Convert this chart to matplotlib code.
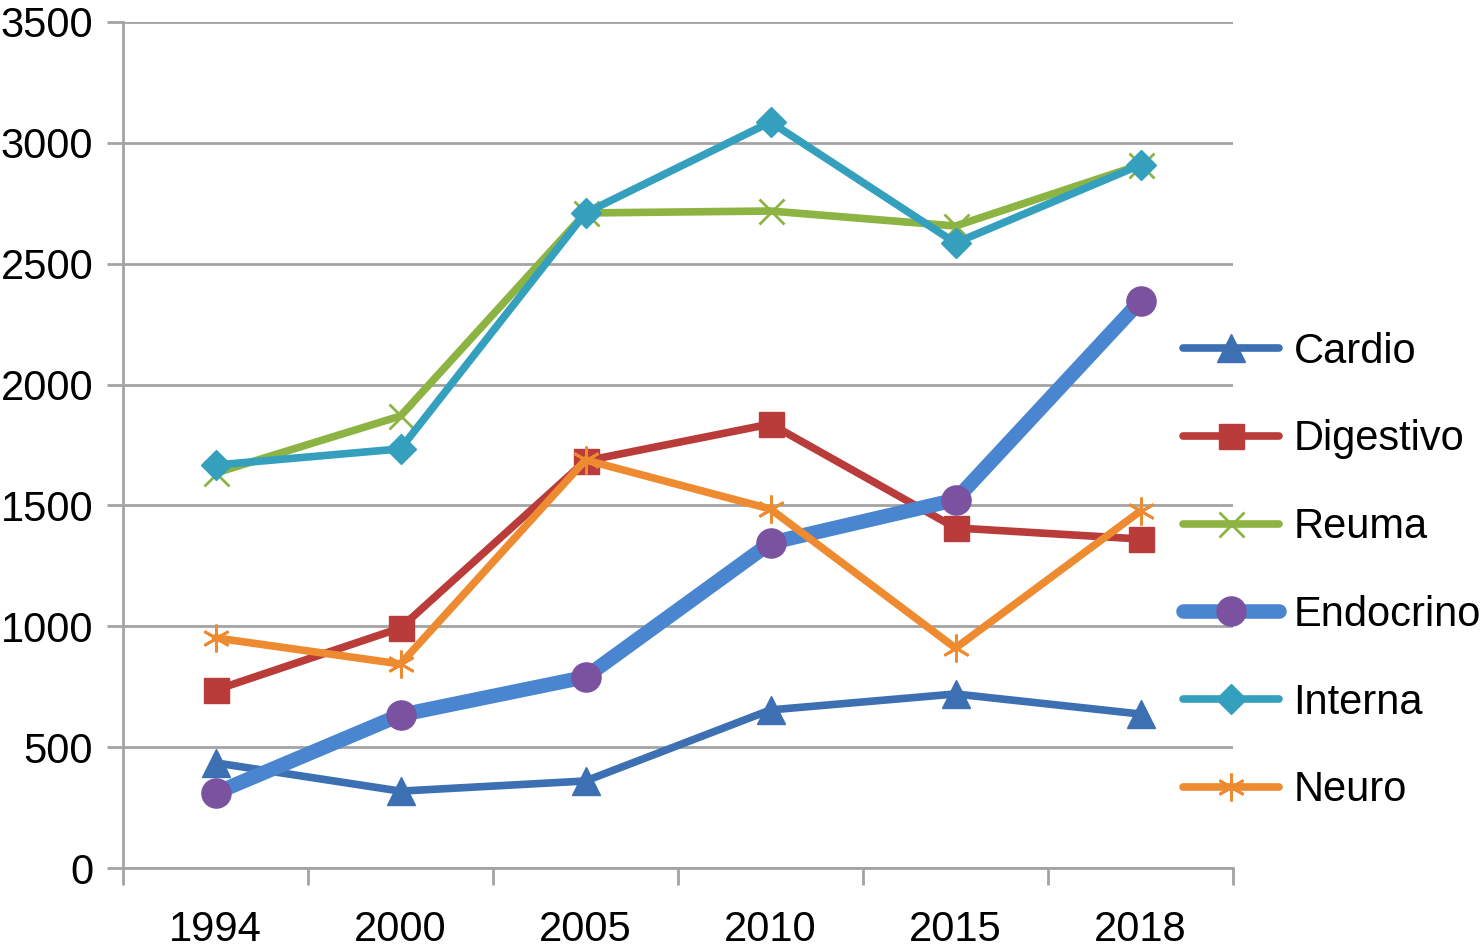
import matplotlib
matplotlib.use("Agg")
import matplotlib.pyplot as plt
from matplotlib.ticker import FixedLocator

plt.rcParams['font.family'] = ['Liberation Sans', 'DejaVu Sans']

years = ["1994", "2000", "2005", "2010", "2015", "2018"]
cardio = [435, 318, 360, 654, 720, 637]
digestivo = [736, 993, 1684, 1837, 1407, 1361]
reuma = [1634, 1870, 2710, 2718, 2656, 2909]
endocrino = [310, 633, 790, 1345, 1523, 2346]
interna = [1667, 1734, 2710, 3086, 2586, 2909]
neuro = [952, 844, 1688, 1485, 910, 1477]
yticks = [0, 500, 1000, 1500, 2000, 2500, 3000, 3500]

fig = plt.figure(figsize=(14.8, 9.5), dpi=100)
ax = fig.add_axes([123/1480, 1-868/950, (1233-123)/1480, (868-22)/950])

x = list(range(len(years)))
grid_c = "#a3a3a3"

series = [
    ("Cardio", cardio, dict(color="#3d6fb3", lw=5.5, marker="^", ms=20, mfc="#3d6fb3", mec="#3d6fb3")),
    ("Digestivo", digestivo, dict(color="#b93c3a", lw=5.5, marker="s", ms=18, mfc="#b93c3a", mec="#b93c3a")),
    ("Reuma", reuma, dict(color="#8db443", lw=5.5, marker="x", ms=18, mew=2, mfc="#8db443", mec="#8db443")),
    ("Endocrino", endocrino, dict(color="#4a86cf", lw=10.5, marker="o", ms=21, mfc="#7b52a0", mec="#7b52a0")),
    ("Interna", interna, dict(color="#35a0be", lw=5.5, marker="D", ms=15, mfc="#35a0be", mec="#35a0be")),
    ("Neuro", neuro, dict(color="#ee8a30", lw=5.5, marker=(6, 2, 0), ms=20, mew=2, mfc="#ee8a30", mec="#ee8a30")),
]
for name, vals, st in series:
    ax.plot(x, vals, label=name, solid_capstyle="round", solid_joinstyle="round", **st)

ax.set_xlim(-0.5, len(years) - 0.5)
ax.set_ylim(0, 3500)
ax.set_yticks(yticks)
ax.set_yticklabels([str(v) for v in yticks])
ax.set_xticks(x)
ax.set_xticklabels(years)
ax.xaxis.set_minor_locator(FixedLocator([i - 0.5 for i in range(len(years) + 1)]))

ax.grid(axis="y", color=grid_c, lw=2)
ax.set_axisbelow(True)
for s in ["top", "right"]:
    ax.spines[s].set_visible(False)
ax.spines["left"].set_color(grid_c)
ax.spines["left"].set_linewidth(2)
ax.spines["bottom"].set_color(grid_c)
ax.spines["bottom"].set_linewidth(2)

ax.tick_params(axis="y", which="major", length=11.5, width=2, color=grid_c, labelsize=30, pad=10)
ax.tick_params(axis="x", which="major", length=0, labelsize=30, pad=30)
ax.tick_params(axis="x", which="minor", length=12, width=2, color=grid_c)

leg = ax.legend(loc="center left", bbox_to_anchor=(1183/1480, 1-571/950), bbox_transform=fig.transFigure,
                frameon=False, fontsize=30, borderpad=0, borderaxespad=0,
                handlelength=2.3, handletextpad=0.35, labelspacing=1.145)

fig.savefig("out.png", dpi=100)
